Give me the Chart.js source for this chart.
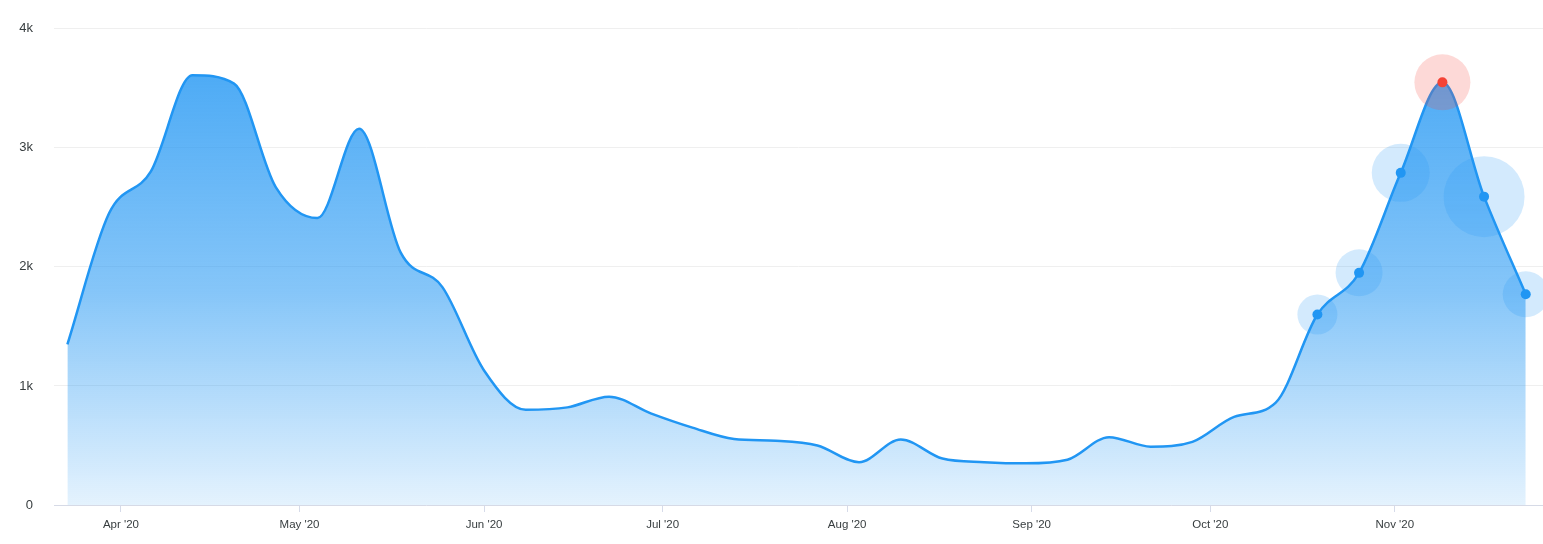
<!DOCTYPE html>
<html>
<head>
<meta charset="utf-8">
<script src="https://cdn.jsdelivr.net/npm/chart.js@4/dist/chart.umd.min.js"></script>
<style>
    html, body { margin: 0; padding: 0; background: #fff; }
    canvas { display: block; }
</style>
</head>
<body>
<canvas id="trendChart" width="1543" height="544"></canvas>
<script>
// Weekly values
const weeks = [
    '2020-03-23', '2020-03-30', '2020-04-06', '2020-04-13', '2020-04-20', '2020-04-27',
    '2020-05-04', '2020-05-11', '2020-05-18', '2020-05-25', '2020-06-01', '2020-06-08',
    '2020-06-15', '2020-06-22', '2020-06-29', '2020-07-06', '2020-07-13', '2020-07-20',
    '2020-07-27', '2020-08-03', '2020-08-10', '2020-08-17', '2020-08-24', '2020-08-31',
    '2020-09-07', '2020-09-14', '2020-09-21', '2020-09-28', '2020-10-05', '2020-10-12',
    '2020-10-19', '2020-10-26', '2020-11-02', '2020-11-09', '2020-11-16', '2020-11-23'
];
const values = [
    1350, 2450, 2800, 3610, 3540, 2670,
    2410, 3160, 2120, 1830, 1130, 800,
    820, 910, 770, 650, 555, 540,
    500, 360, 550, 390, 360, 350,
    380, 570, 490, 530, 740, 860,
    1600, 1950, 2790, 3550, 2590, 1770
];

// Highlighted weeks at the end, with their halo sizes
const markerWeeks = ['2020-10-19', '2020-10-26', '2020-11-02', '2020-11-09', '2020-11-16', '2020-11-23'];
const markerHalo = [20, 23.5, 29, 28, 40.5, 23];
const peakWeek = '2020-11-09';

// Axis ticks
const monthTicks = ['2020-04-01', '2020-05-01', '2020-06-01', '2020-07-01', '2020-08-01', '2020-09-01', '2020-10-01', '2020-11-01'];
const monthLabels = ["Apr '20", "May '20", "Jun '20", "Jul '20", "Aug '20", "Sep '20", "Oct '20", "Nov '20"];
const yTicks = [0, 1000, 2000, 3000, 4000];

// Helpers
const BASE = Date.UTC(2020, 2, 1);
const toDay = (s) => {
    const [y, m, d] = s.split('-').map(Number);
    return (Date.UTC(y, m - 1, d) - BASE) / 86400000;
};
const valueAt = (s) => values[weeks.indexOf(s)];

const areaPoints = weeks.map((w, i) => ({ x: toDay(w), y: values[i] }));
const markerPoints = markerWeeks.map(w => ({ x: toDay(w), y: valueAt(w) }));
const tickDays = monthTicks.map(toDay);

const BLUE = '#2196f3';
const RED = '#f44336';

function areaGradient(ctx) {
    const area = ctx.chart.chartArea;
    if (!area) return 'rgba(33,150,243,0.5)';
    const g = ctx.chart.ctx.createLinearGradient(0, area.top, 0, area.bottom);
    g.addColorStop(0, 'rgba(33,150,243,0.85)');
    g.addColorStop(0.55, 'rgba(33,150,243,0.55)');
    g.addColorStop(1, 'rgba(33,150,243,0.12)');
    return g;
}

new Chart(document.getElementById('trendChart'), {
    type: 'line',
    data: {
        datasets: [
            {
                data: areaPoints,
                borderColor: BLUE,
                borderWidth: 2.5,
                backgroundColor: areaGradient,
                fill: 'origin',
                cubicInterpolationMode: 'monotone',
                pointRadius: 0,
                order: 3
            },
            {
                type: 'scatter',
                data: markerPoints,
                pointRadius: markerHalo,
                pointBackgroundColor: markerWeeks.map(w => w === peakWeek ? 'rgba(244,67,54,0.2)' : 'rgba(33,150,243,0.2)'),
                pointBorderWidth: 0,
                clip: false,
                order: 2
            },
            {
                type: 'scatter',
                data: markerPoints,
                pointRadius: 5,
                pointBackgroundColor: markerWeeks.map(w => w === peakWeek ? RED : BLUE),
                pointBorderWidth: 0,
                clip: false,
                order: 1
            }
        ]
    },
    options: {
        responsive: false,
        animation: false,
        events: [],
        layout: { autoPadding: false, padding: { top: 28, right: 0, left: 0, bottom: 0 } },
        plugins: {
            legend: { display: false },
            tooltip: { enabled: false }
        },
        scales: {
            x: {
                type: 'linear',
                min: 19.75,
                max: 269.9,
                afterFit: (scale) => { scale.height = 39; },
                afterBuildTicks: (scale) => { scale.ticks = tickDays.map(v => ({ value: v })); },
                grid: {
                    drawOnChartArea: false,
                    drawTicks: true,
                    tickLength: 7,
                    color: '#d6dbe9'
                },
                border: { display: true, color: '#d6dae6', width: 1 },
                ticks: {
                    autoSkip: false,
                    maxRotation: 0,
                    padding: 6,
                    color: '#373d3f',
                    font: { family: '"Liberation Sans", Arial, sans-serif', size: 11.5 },
                    callback: (v) => {
                        const i = tickDays.indexOf(v);
                        return i >= 0 ? monthLabels[i] : '';
                    }
                }
            },
            y: {
                min: 0,
                max: 4000,
                afterFit: (scale) => { scale.width = 54; },
                afterBuildTicks: (scale) => { scale.ticks = yTicks.map(v => ({ value: v })); },
                grid: {
                    drawTicks: false,
                    color: '#efefef'
                },
                border: { display: false },
                ticks: {
                    padding: 21,
                    color: '#373d3f',
                    font: { family: '"Liberation Sans", Arial, sans-serif', size: 13 },
                    callback: (v) => v === 0 ? '0' : (v / 1000) + 'k'
                }
            }
        }
    }
});
</script>
</body>
</html>
